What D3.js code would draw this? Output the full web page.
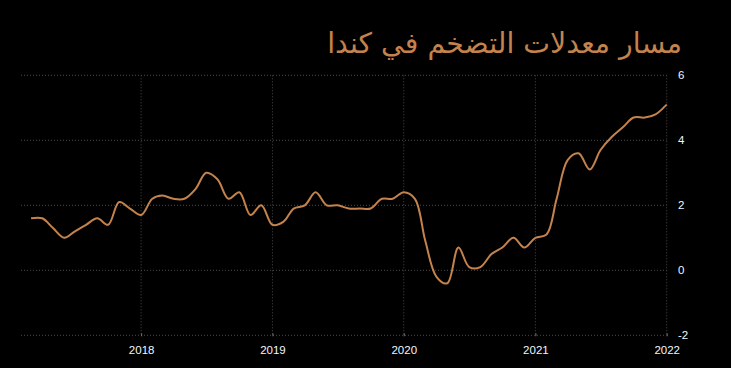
<!DOCTYPE html>
<html><head><meta charset="utf-8">
<script src="https://cdn.jsdelivr.net/npm/d3@7"></script>
<style>html,body{margin:0;padding:0;background:#000;}svg{display:block;}</style>
</head><body>
<svg id="c" width="731" height="368"></svg>
<script>
const title = "مسار معدلات التضخم في كندا";
const startMonth = "2017-03";
const values = [1.6,1.6,1.3,1.0,1.2,1.4,1.6,1.4,2.1,1.9,
  1.7,2.2,2.3,2.2,2.2,2.5,3.0,2.8,2.2,2.4,1.7,2.0,
  1.4,1.5,1.9,2.0,2.4,2.0,2.0,1.9,1.9,1.9,2.2,2.2,
  2.4,2.2,0.9,-0.2,-0.4,0.7,0.1,0.1,0.5,0.7,1.0,0.7,
  1.0,1.1,2.2,3.4,3.6,3.1,3.7,4.1,4.4,4.7,4.7,4.8,
  5.1];
const yTicks = [-2,0,2,4,6];
const xTickYears = [2018,2019,2020,2021,2022];

const parse = d3.timeParse("%Y-%m");
const t0 = parse(startMonth);
const data = values.map((v,i)=>({date:d3.timeMonth.offset(t0,i), v}));

const svg = d3.select("#c");
const x = d3.scaleTime().domain([new Date(2017,1,1), new Date(2022,0,1)]).range([21,666.7]);
const y = d3.scaleLinear().domain([-2,6]).range([335.3,75.3]);
const gridColor = "#4a4a4a";
const lineColor = "#c4834c";

svg.append("g").selectAll("line").data(yTicks).join("line")
  .attr("x1",21).attr("x2",666.7)
  .attr("y1",d=>y(d)).attr("y2",d=>y(d))
  .attr("stroke",gridColor).attr("stroke-width",1).attr("stroke-dasharray","1,2");
const xt = xTickYears.map(yr=>new Date(yr,0,1));
svg.append("g").selectAll("line").data(xt).join("line")
  .attr("x1",d=>x(d)).attr("x2",d=>x(d))
  .attr("y1",75.3).attr("y2",335.3)
  .attr("stroke",gridColor).attr("stroke-width",1).attr("stroke-dasharray","1,2");

const xAxis = d3.axisBottom(x).tickValues(xt).tickFormat(d3.timeFormat("%Y")).tickSize(3).tickSizeOuter(0);
const gx = svg.append("g").attr("transform","translate(0,333.3)").call(xAxis);
gx.select(".domain").remove();
gx.selectAll(".tick line").attr("stroke","#777");
gx.selectAll("text").attr("fill","#f2f6ff").attr("font-family","Liberation Sans, Arial, sans-serif").attr("font-size",11.5).attr("y",13).attr("dy","0.71em");

const yAxis = d3.axisRight(y).tickValues(yTicks).tickFormat(d=>String(d)).tickSize(0).tickPadding(0);
const gy = svg.append("g").attr("transform","translate(678,0)").call(yAxis);
gy.select(".domain").remove();
gy.selectAll("text").attr("fill","#f2f6ff").attr("font-family","Liberation Sans, Arial, sans-serif").attr("font-size",11.5);

const line = d3.line().x(d=>x(d.date)).y(d=>y(d.v)).curve(d3.curveCatmullRom.alpha(0.5));
svg.append("path").datum(data).attr("d",line)
  .attr("fill","none").attr("stroke",lineColor).attr("stroke-width",2).attr("stroke-linejoin","round");

const tt = svg.append("text").attr("x",682).attr("y",53)
  .attr("text-anchor","end")
  .attr("fill","#c4834c").attr("font-family","DejaVu Sans, Noto Sans, sans-serif")
  .attr("font-size",28).text(title);
const w = tt.node().getBBox().width;
if (w>0) tt.attr("font-size", Math.min(40, 28*355/w));
</script>
</body></html>
